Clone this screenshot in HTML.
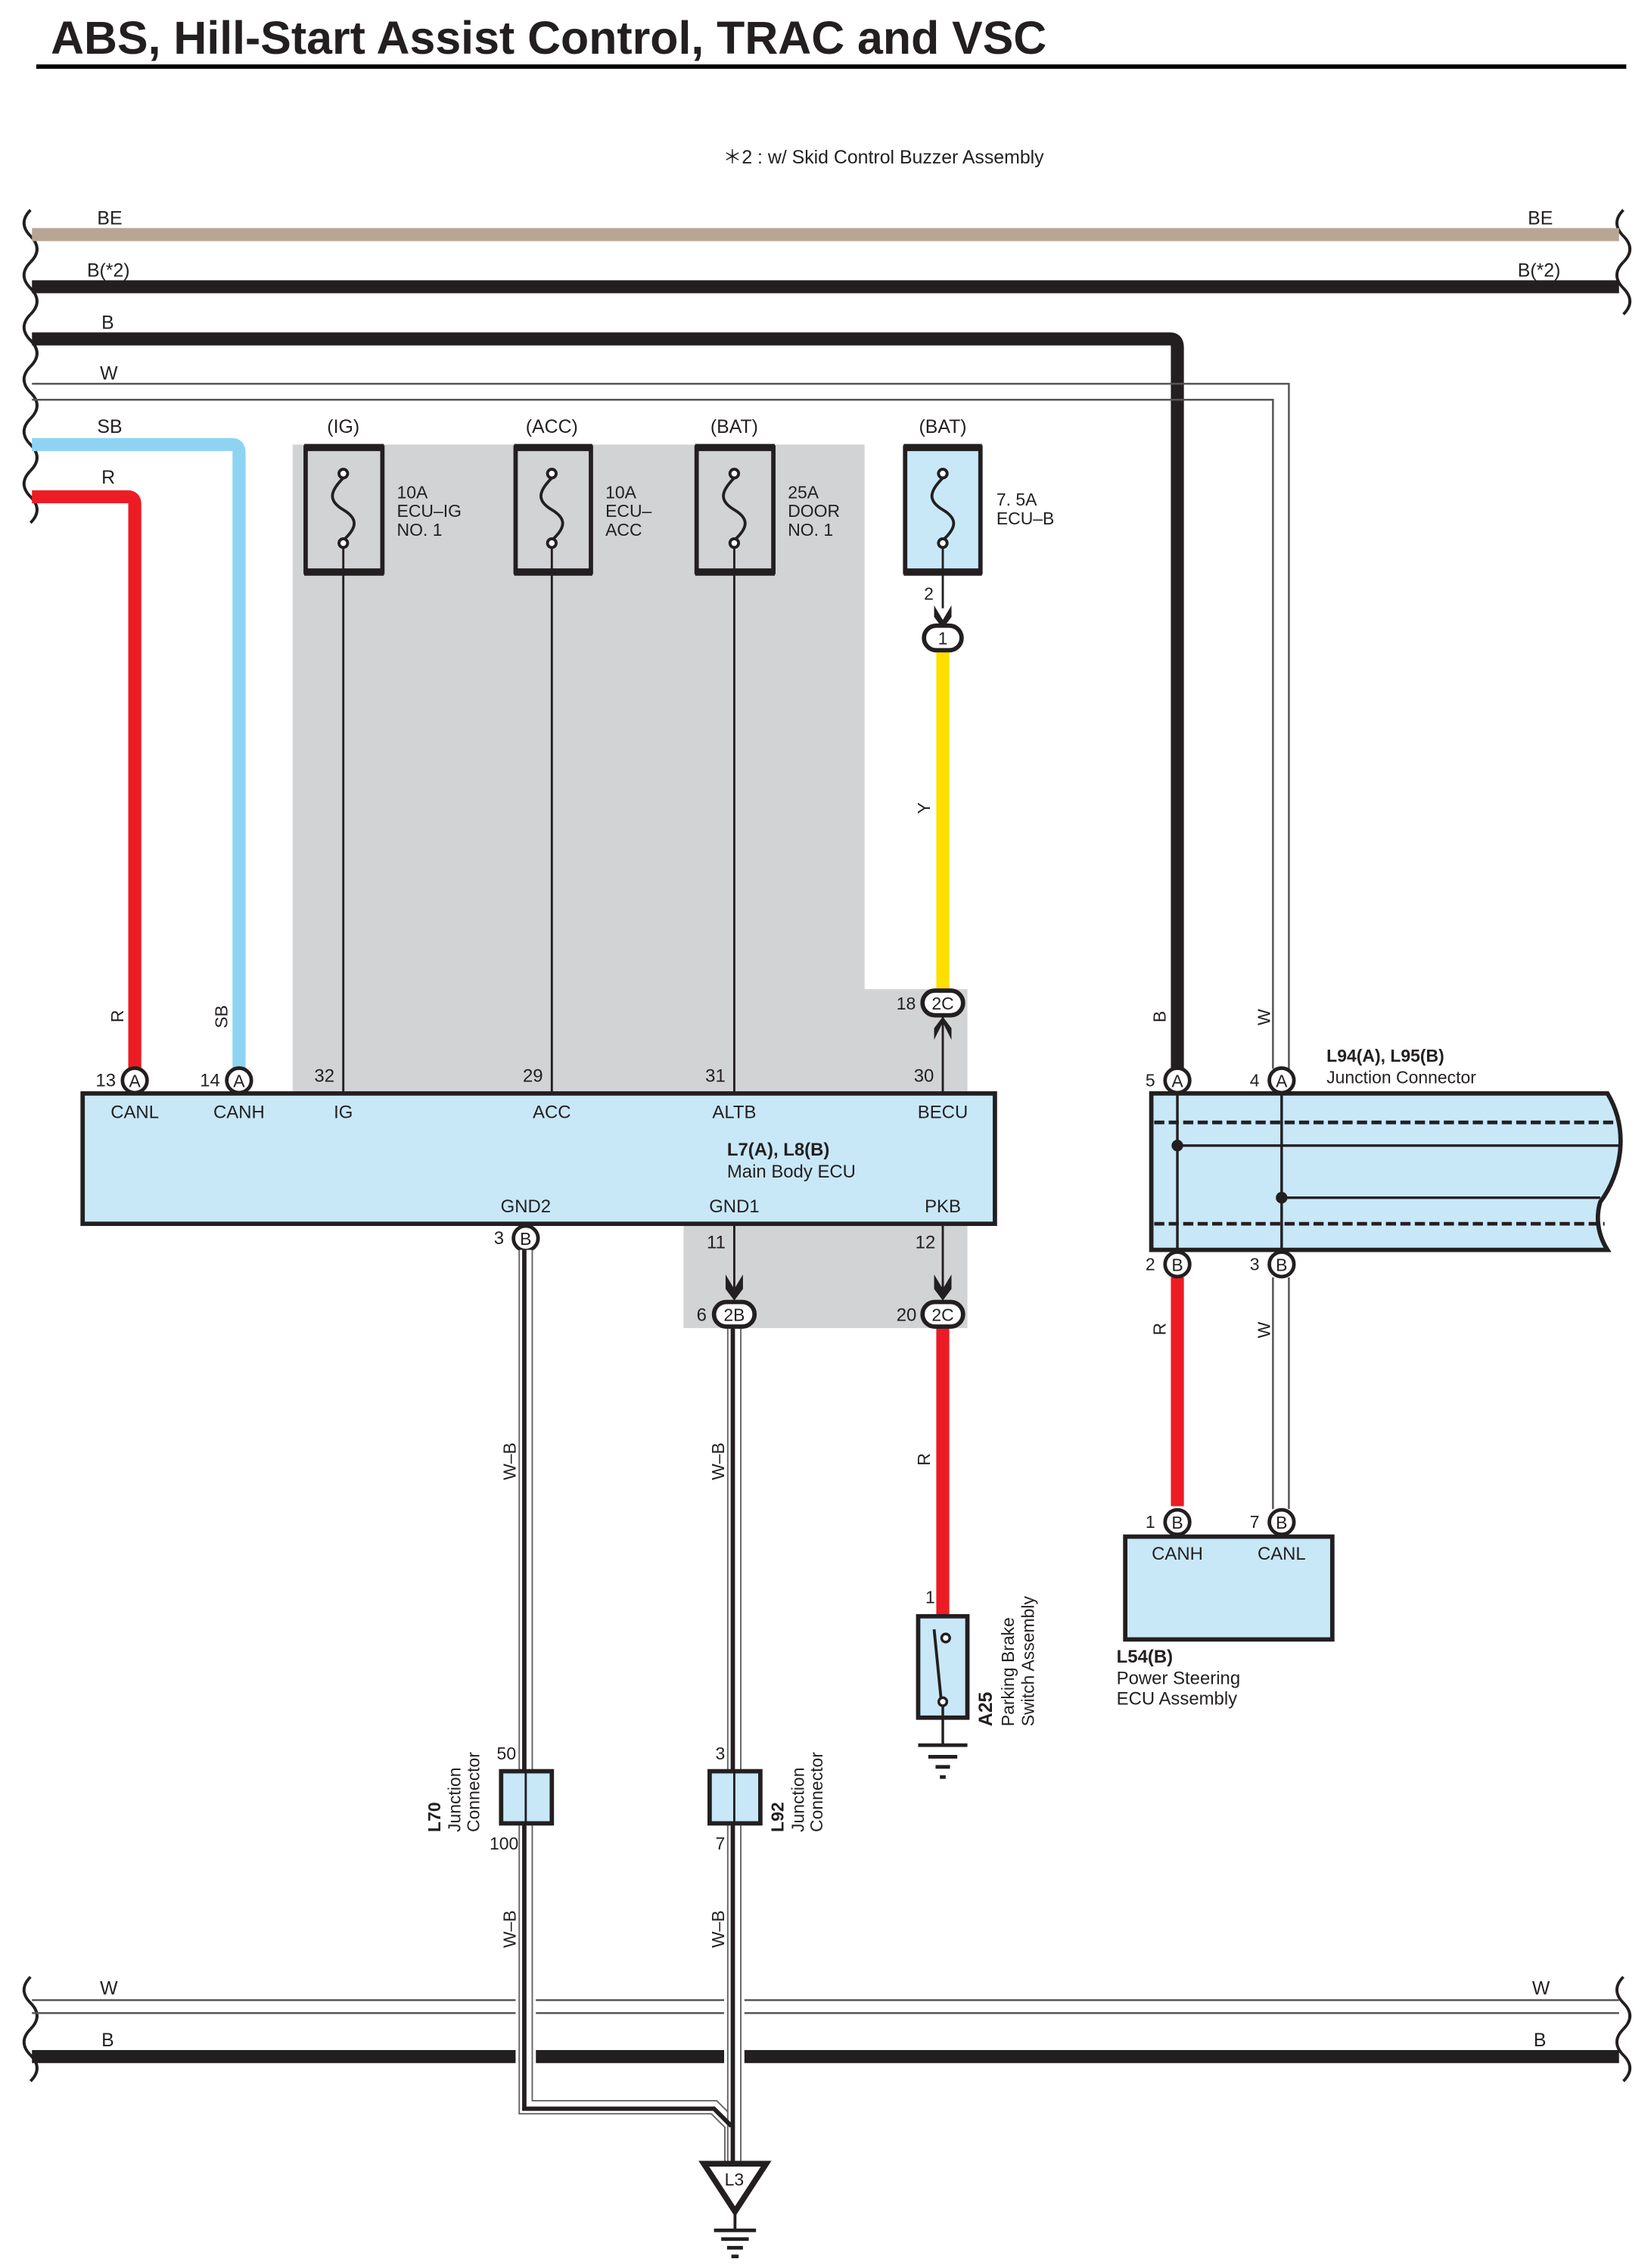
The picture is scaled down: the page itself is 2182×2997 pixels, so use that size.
<!DOCTYPE html>
<html><head><meta charset="utf-8"><style>
html,body{margin:0;padding:0;background:#fff}
svg{display:block}
text{font-family:"Liberation Sans",sans-serif;fill:#231f20}
</style></head><body>
<svg width="2182" height="2997" viewBox="0 0 1140 1566" xmlns="http://www.w3.org/2000/svg">
<defs>
<path id="brace" d="M0,0 c-6,6 -6,12 0,18 c6,6 6,12 0,18" fill="none" stroke="#231f20" stroke-width="2"/>
</defs>
<text x="35" y="37" font-size="31.8" font-weight="bold" fill="#000">ABS, Hill-Start Assist Control, TRAC and VSC</text>
<line x1="25" y1="46" x2="1123" y2="46" stroke="#000" stroke-width="3"/>
<text x="610" y="113" font-size="13" text-anchor="middle">＊2 : w/ Skid Control Buzzer Assembly</text>

<path d="M202,307 H597 V683 H668 V755 H202 Z" fill="#d1d3d4"/>
<rect x="472" y="845" width="196" height="72" fill="#d1d3d4"/>

<g transform="translate(21,145)"><use href="#brace"/><use href="#brace" y="36"/><use href="#brace" y="72"/><use href="#brace" y="108"/><use href="#brace" y="144"/><use href="#brace" y="180"/></g>
<g transform="translate(1121,145)"><use href="#brace"/><use href="#brace" y="36"/></g>
<g transform="translate(21,1365)"><use href="#brace"/><use href="#brace" y="36"/></g>
<g transform="translate(1121,1365)"><use href="#brace"/><use href="#brace" y="36"/></g>

<line x1="22" y1="162" x2="1118" y2="162" stroke="#b9a594" stroke-width="9"/>
<line x1="22" y1="198" x2="1118" y2="198" stroke="#231f20" stroke-width="9"/>
<path d="M22,234 H808 Q813,234 813,240 V738" fill="none" stroke="#231f20" stroke-width="9"/>
<path d="M22,265 H890 V738" fill="none" stroke="#555" stroke-width="1.3"/>
<path d="M22,276 H879 V738" fill="none" stroke="#555" stroke-width="1.3"/>
<path d="M22,307 H160 Q165,307 165,312 V738" fill="none" stroke="#8fd3f3" stroke-width="9"/>
<path d="M22,343 H88 Q93,343 93,348 V738" fill="none" stroke="#ed1c24" stroke-width="9"/>
<g font-size="13">
<text x="67" y="155">BE</text><text x="1055" y="155">BE</text>
<text x="60" y="191">B(*2)</text><text x="1048" y="191">B(*2)</text>
<text x="70" y="227">B</text><text x="69" y="262">W</text>
<text x="67" y="299">SB</text><text x="70" y="334">R</text>
<text x="237" y="299" text-anchor="middle">(IG)</text>
<text x="381" y="299" text-anchor="middle">(ACC)</text>
<text x="507" y="299" text-anchor="middle">(BAT)</text>
<text x="651" y="299" text-anchor="middle">(BAT)</text>
</g>

<g stroke="#231f20" fill="none">
<rect x="211" y="309" width="53" height="86" stroke-width="3"/>
<rect x="356" y="309" width="52" height="86" stroke-width="3"/>
<rect x="481" y="309" width="53" height="86" stroke-width="3"/>
<rect x="625" y="309" width="52" height="86" stroke-width="3" fill="#c8e8f8"/>
<line x1="210" y1="309" x2="265" y2="309" stroke-width="5"/><line x1="210" y1="395" x2="265" y2="395" stroke-width="5"/>
<line x1="355" y1="309" x2="409" y2="309" stroke-width="5"/><line x1="355" y1="395" x2="409" y2="395" stroke-width="5"/>
<line x1="480" y1="309" x2="535" y2="309" stroke-width="5"/><line x1="480" y1="395" x2="535" y2="395" stroke-width="5"/>
<line x1="624" y1="309" x2="678" y2="309" stroke-width="5"/><line x1="624" y1="395" x2="678" y2="395" stroke-width="5"/>
<g stroke-width="2">
<path d="M237,330 C227,340 227,346 237,352 C247,358 247,364 237,373"/>
<path d="M381,330 C371,340 371,346 381,352 C391,358 391,364 381,373"/>
<path d="M507,330 C497,340 497,346 507,352 C517,358 517,364 507,373"/>
<path d="M651,330 C641,340 641,346 651,352 C661,358 661,364 651,373"/>
<circle cx="237" cy="327" r="3" fill="#fff"/><circle cx="237" cy="375" r="3" fill="#fff"/>
<circle cx="381" cy="327" r="3" fill="#fff"/><circle cx="381" cy="375" r="3" fill="#fff"/>
<circle cx="507" cy="327" r="3" fill="#fff"/><circle cx="507" cy="375" r="3" fill="#fff"/>
<circle cx="651" cy="327" r="3" fill="#fff"/><circle cx="651" cy="375" r="3" fill="#fff"/>
</g>
<g stroke-width="1.5">
<line x1="237" y1="378" x2="237" y2="755"/>
<line x1="381" y1="378" x2="381" y2="755"/>
<line x1="507" y1="378" x2="507" y2="755"/>
<line x1="651" y1="378" x2="651" y2="420"/>
<line x1="651" y1="700" x2="651" y2="755"/>
<line x1="507" y1="845" x2="507" y2="890"/>
<line x1="651" y1="845" x2="651" y2="890"/>
</g>
</g>
<g font-size="12">
<text x="274" y="344">10A</text><text x="274" y="357">ECU–IG</text><text x="274" y="370">NO. 1</text>
<text x="418" y="344">10A</text><text x="418" y="357">ECU–</text><text x="418" y="370">ACC</text>
<text x="544" y="344">25A</text><text x="544" y="357">DOOR</text><text x="544" y="370">NO. 1</text>
<text x="688" y="349">7. 5A</text><text x="688" y="362">ECU–B</text>
<text x="638" y="414">2</text>
</g>
<path d="M645,418 L651,428 L657,418 L657,426 L651,434 L645,426Z" fill="#231f20"/>
<line x1="651" y1="450" x2="651" y2="683" stroke="#ffde00" stroke-width="9"/>
<rect x="638" y="432" width="26" height="17" rx="8.5" fill="#fff" stroke="#231f20" stroke-width="3"/>
<text x="651" y="445" font-size="12" text-anchor="middle">1</text>
<text transform="translate(642,562) rotate(-90)" font-size="12">Y</text>
<rect x="637" y="684" width="28" height="17" rx="8.5" fill="#fff" stroke="#231f20" stroke-width="3"/>
<text x="651" y="697" font-size="12" text-anchor="middle">2C</text>
<text x="619" y="697" font-size="12">18</text>
<path d="M645,718 L651,706 L657,718 L657,710 L651,702 L645,710Z" fill="#231f20"/>

<rect x="57" y="755" width="630" height="90" fill="#c8e8f8" stroke="#231f20" stroke-width="3"/>
<g font-size="12.5">
<text x="93" y="772" text-anchor="middle">CANL</text>
<text x="165" y="772" text-anchor="middle">CANH</text>
<text x="237" y="772" text-anchor="middle">IG</text>
<text x="381" y="772" text-anchor="middle">ACC</text>
<text x="507" y="772" text-anchor="middle">ALTB</text>
<text x="651" y="772" text-anchor="middle">BECU</text>
<text x="502" y="798" font-weight="bold">L7(A), L8(B)</text>
<text x="502" y="813">Main Body ECU</text>
<text x="363" y="837" text-anchor="middle">GND2</text>
<text x="507" y="837" text-anchor="middle">GND1</text>
<text x="651" y="837" text-anchor="middle">PKB</text>
<text x="66" y="750">13</text><text x="138" y="750">14</text>
<text x="217" y="747">32</text><text x="361" y="747">29</text><text x="487" y="747">31</text><text x="631" y="747">30</text>
<text x="341" y="859">3</text>
<text x="488" y="862">11</text><text x="632" y="862">12</text>
<text x="481" y="912">6</text><text x="619" y="912">20</text>
</g>
<g fill="#fff" stroke="#231f20" stroke-width="2.5">
<circle cx="93" cy="746" r="8.5"/><circle cx="165" cy="746" r="8.5"/>
<circle cx="363" cy="855" r="8.5"/>
</g>
<g font-size="12" text-anchor="middle">
<text x="93" y="750.5">A</text><text x="165" y="750.5">A</text><text x="363" y="859.5">B</text>
</g>
<text transform="translate(85,706) rotate(-90)" font-size="12">R</text>
<text transform="translate(157,710) rotate(-90)" font-size="12">SB</text>

<path d="M501,880 L507,890 L513,880 L513,890 L507,898 L501,890Z" fill="#231f20"/>
<path d="M645,880 L651,890 L657,880 L657,890 L651,898 L645,890Z" fill="#231f20"/>
<line x1="651" y1="917" x2="651" y2="1115" stroke="#ed1c24" stroke-width="9"/>
<text transform="translate(642,1012) rotate(-90)" font-size="12">R</text>

<g fill="none">
<path d="M363,863 V1455 H493 L505,1467 V1493" stroke="#666" stroke-width="10"/>
<path d="M363,863 V1455 H493 L505,1467 V1493" stroke="#fff" stroke-width="8"/>
<path d="M507,917 V1493" stroke="#666" stroke-width="10"/>
<path d="M507,917 V1493" stroke="#fff" stroke-width="8"/>
<path d="M362,863 V1456 H493 L505,1468" stroke="#231f20" stroke-width="3"/>
<path d="M506,917 V1493" stroke="#231f20" stroke-width="3"/>
</g>
<rect x="493" y="899" width="28" height="17" rx="8.5" fill="#fff" stroke="#231f20" stroke-width="3"/>
<text x="507" y="912" font-size="12" text-anchor="middle">2B</text>
<rect x="637" y="899" width="28" height="17" rx="8.5" fill="#fff" stroke="#231f20" stroke-width="3"/>
<text x="651" y="912" font-size="12" text-anchor="middle">2C</text>
<text transform="translate(356,1022) rotate(-90)" font-size="12">W–B</text>
<text transform="translate(500,1022) rotate(-90)" font-size="12">W–B</text>
<text transform="translate(356,1345) rotate(-90)" font-size="12">W–B</text>
<text transform="translate(500,1345) rotate(-90)" font-size="12">W–B</text>

<rect x="346" y="1223" width="35" height="36" fill="#c8e8f8" stroke="#231f20" stroke-width="3"/>
<rect x="490" y="1223" width="35" height="36" fill="#c8e8f8" stroke="#231f20" stroke-width="3"/>
<line x1="363" y1="1223" x2="363" y2="1259" stroke="#231f20" stroke-width="1.5"/>
<line x1="507" y1="1223" x2="507" y2="1259" stroke="#231f20" stroke-width="1.5"/>
<g font-size="12">
<text x="343" y="1215">50</text><text x="338" y="1277">100</text>
<text x="494" y="1215">3</text><text x="494" y="1277">7</text>
</g>
<text transform="translate(304,1265) rotate(-90)" font-size="12" font-weight="bold">L70</text>
<text transform="translate(318,1265) rotate(-90)" font-size="12">Junction</text>
<text transform="translate(331,1265) rotate(-90)" font-size="12">Connector</text>
<text transform="translate(541,1265) rotate(-90)" font-size="12" font-weight="bold">L92</text>
<text transform="translate(555,1265) rotate(-90)" font-size="12">Junction</text>
<text transform="translate(568,1265) rotate(-90)" font-size="12">Connector</text>

<rect x="634" y="1116" width="34" height="70" fill="#c8e8f8" stroke="#231f20" stroke-width="3"/>
<line x1="645" y1="1125" x2="650" y2="1175" stroke="#231f20" stroke-width="2"/>
<circle cx="653" cy="1131" r="2.8" fill="#fff" stroke="#231f20" stroke-width="1.8"/>
<circle cx="651" cy="1175" r="2.8" fill="#fff" stroke="#231f20" stroke-width="1.8"/>
<line x1="651" y1="1178" x2="651" y2="1205" stroke="#231f20" stroke-width="1.8"/>
<g stroke="#231f20" stroke-width="2.5">
<line x1="634" y1="1205" x2="668" y2="1205"/><line x1="641" y1="1213" x2="661" y2="1213"/>
<line x1="646" y1="1220" x2="656" y2="1220"/><line x1="649" y1="1227" x2="653" y2="1227"/>
</g>
<text x="639" y="1107" font-size="12">1</text>
<text transform="translate(685,1192) rotate(-90)" font-size="13" font-weight="bold">A25</text>
<text transform="translate(700,1192) rotate(-90)" font-size="12">Parking Brake</text>
<text transform="translate(714,1192) rotate(-90)" font-size="12">Switch Assembly</text>

<g>
<path d="M22,1381 H356 M370,1381 H500 M514,1381 H1118" stroke="#555" stroke-width="1.3" fill="none"/>
<path d="M22,1390 H356 M370,1390 H500 M514,1390 H1118" stroke="#555" stroke-width="1.3" fill="none"/>
<path d="M22,1420 H356 M370,1420 H500 M514,1420 H1118" stroke="#231f20" stroke-width="9" fill="none"/>
</g>
<g font-size="13">
<text x="69" y="1377">W</text><text x="1058" y="1377">W</text>
<text x="70" y="1413">B</text><text x="1059" y="1413">B</text>
</g>
<path d="M486,1494 H529 L507.5,1527 Z" fill="#fff" stroke="#231f20" stroke-width="4"/>
<text x="507" y="1509" font-size="12" text-anchor="middle">L3</text>
<line x1="507.5" y1="1527" x2="507.5" y2="1540" stroke="#231f20" stroke-width="2"/>
<g stroke="#231f20" stroke-width="2.5">
<line x1="493" y1="1540" x2="522" y2="1540"/><line x1="498" y1="1546" x2="517" y2="1546"/>
<line x1="502" y1="1552" x2="513" y2="1552"/><line x1="505" y1="1558" x2="510" y2="1558"/>
</g>

<path d="M795,755 H1110 C1125,780 1120,810 1105,830 C1102,840 1103,852 1110,863 H795 Z" fill="#c8e8f8" stroke="#231f20" stroke-width="3"/>
<line x1="797" y1="775" x2="1118" y2="775" stroke="#231f20" stroke-width="2.5" stroke-dasharray="7,3"/>
<line x1="797" y1="845" x2="1108" y2="845" stroke="#231f20" stroke-width="2.5" stroke-dasharray="7,3"/>
<g stroke="#231f20" stroke-width="1.8">
<line x1="813" y1="755" x2="813" y2="863"/>
<line x1="885" y1="755" x2="885" y2="863"/>
<line x1="813" y1="791" x2="1118" y2="791"/>
<line x1="885" y1="827" x2="1105" y2="827"/>
</g>
<circle cx="813" cy="791" r="4" fill="#231f20"/>
<circle cx="885" cy="827" r="4" fill="#231f20"/>
<line x1="813" y1="882" x2="813" y2="1040" stroke="#ed1c24" stroke-width="9"/>
<path d="M879,882 V1042 M890,882 V1042" stroke="#555" stroke-width="1.3"/>
<g fill="#fff" stroke="#231f20" stroke-width="2.5">
<circle cx="813" cy="746" r="8.5"/><circle cx="885" cy="746" r="8.5"/>
<circle cx="813" cy="873" r="8.5"/><circle cx="885" cy="873" r="8.5"/>
<circle cx="813" cy="1051" r="8.5"/><circle cx="885" cy="1051" r="8.5"/>
</g>
<g font-size="12" text-anchor="middle">
<text x="813" y="750.5">A</text><text x="885" y="750.5">A</text>
<text x="813" y="877.5">B</text><text x="885" y="877.5">B</text>
<text x="813" y="1055.5">B</text><text x="885" y="1055.5">B</text>
</g>
<g font-size="12">
<text x="791" y="750">5</text><text x="863" y="750">4</text>
<text x="791" y="877">2</text><text x="863" y="877">3</text>
<text x="791" y="1055">1</text><text x="863" y="1055">7</text>
<text x="916" y="733" font-weight="bold">L94(A), L95(B)</text>
<text x="916" y="748">Junction Connector</text>
</g>
<text transform="translate(805,706) rotate(-90)" font-size="12">B</text>
<text transform="translate(877,708) rotate(-90)" font-size="12">W</text>
<text transform="translate(805,922) rotate(-90)" font-size="12">R</text>
<text transform="translate(877,924) rotate(-90)" font-size="12">W</text>

<rect x="777" y="1061" width="143" height="71" fill="#c8e8f8" stroke="#231f20" stroke-width="3"/>
<g font-size="12.5">
<text x="813" y="1077" text-anchor="middle">CANH</text>
<text x="885" y="1077" text-anchor="middle">CANL</text>
<text x="771" y="1148" font-weight="bold">L54(B)</text>
<text x="771" y="1163">Power Steering</text>
<text x="771" y="1177">ECU Assembly</text>
</g>
</svg>
</body></html>
